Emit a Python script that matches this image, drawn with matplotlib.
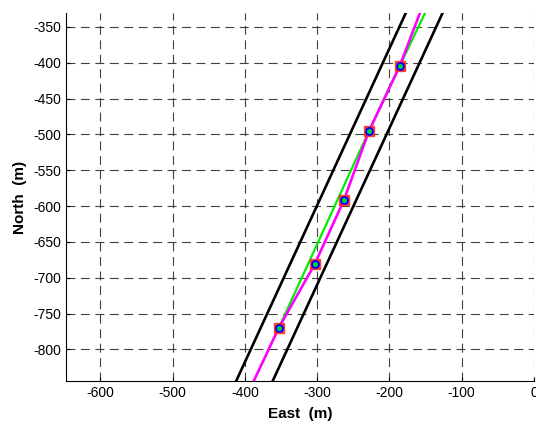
import matplotlib
matplotlib.use("Agg")
import matplotlib.pyplot as plt

# Puntos medidos (este, norte)
east_pts = [-185.9, -228.4, -263.0, -303.6, -353.0]
north_pts = [-404.8, -495.5, -591.7, -681.4, -769.8]

# Trayectoria estimada (magenta)
east_mag = [-387.7, -353.0, -303.6, -263.0, -228.4, -185.9, -158.0]
north_mag = [-844.0, -769.8, -681.4, -591.7, -495.5, -404.8, -331.0]

# Trayectoria directa (verde)
east_green = [-353.0, -228.4, -185.9, -151.0]
north_green = [-769.8, -495.5, -404.8, -331.0]

# Limites del corredor (negro)
east_left = [-412.0, -177.6]
east_right = [-361.5, -126.7]
north_lim = [-844.0, -331.0]

xticks = [-600, -500, -400, -300, -200, -100, 0]
yticks = [-800, -750, -700, -650, -600, -550, -500, -450, -400, -350]

plt.rcParams['font.family'] = ['Liberation Sans', 'DejaVu Sans']
plt.rcParams['axes.unicode_minus'] = False

fig = plt.figure(figsize=(5.36, 4.24), dpi=100)
ax = fig.add_axes([0.1237, 0.1014, 0.8726, 0.8672])

ax.plot(east_left, north_lim, color='black', lw=1.9, zorder=3)
ax.plot(east_right, north_lim, color='black', lw=1.9, zorder=3)
ax.plot(east_green, north_green, color='#00ee00', lw=1.6, zorder=4)
ax.plot(east_mag, north_mag, color='#ff00ff', lw=1.9, zorder=5)
ax.plot(east_pts, north_pts, linestyle='none', marker='s', markersize=7.5,
        markerfacecolor='#ff1010', markeredgecolor='#ff3030', alpha=0.85, zorder=6)
ax.plot(east_pts, north_pts, linestyle='none', marker='o', markersize=5,
        markerfacecolor='#00cc44', markeredgecolor='#0000ff', markeredgewidth=1.3, zorder=7)

ax.set_xlim(-647, 0)
ax.set_ylim(-844, -331)
ax.set_xticks(xticks)
ax.set_yticks(yticks)
ax.tick_params(direction='in', length=3, labelsize=10, colors='black')
ax.grid(True, color='0.25', linestyle=(0, (8, 5)), lw=0.8)

ax.spines['top'].set_visible(False)
ax.spines['right'].set_visible(False)

ax.set_xlabel('East  (m)', fontsize=11, fontweight='bold', labelpad=5)
ax.set_ylabel('North  (m)', fontsize=11, fontweight='bold', labelpad=5)

fig.savefig('out.png', dpi=100)
